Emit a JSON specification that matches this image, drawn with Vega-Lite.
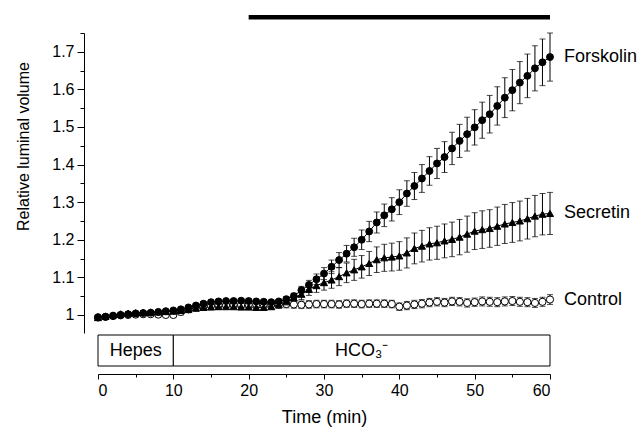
{
  "$schema": "https://vega.github.io/schema/vega-lite/v6.json",
  "background": "white",
  "padding": {"left": 15, "top": 14, "right": 2, "bottom": 5},
  "config": {
    "view": {"stroke": null},
    "font": "Liberation Sans",
    "axis": {"labelFont": "Liberation Sans", "titleFont": "Liberation Sans", "labelColor": "black", "titleColor": "black", "domainColor": "black", "tickColor": "black", "titleFontWeight": "normal", "grid": false}
  },
  "datasets": {
    "series": [
      {"t":0,"s":"Control","v":0.994,"e":0.004},{"t":1,"s":"Control","v":0.995,"e":0.004},{"t":2,"s":"Control","v":0.997,"e":0.004},{"t":3,"s":"Control","v":0.999,"e":0.004},{"t":4,"s":"Control","v":1.0,"e":0.004},{"t":5,"s":"Control","v":1.001,"e":0.004},{"t":6,"s":"Control","v":1.002,"e":0.004},{"t":7,"s":"Control","v":1.002,"e":0.004},{"t":8,"s":"Control","v":1.001,"e":0.004},{"t":9,"s":"Control","v":1.0,"e":0.004},{"t":10,"s":"Control","v":1.0,"e":0.005},
      {"t":11,"s":"Control","v":1.008,"e":0.008},{"t":12,"s":"Control","v":1.015,"e":0.009},{"t":13,"s":"Control","v":1.02,"e":0.009},{"t":14,"s":"Control","v":1.023,"e":0.009},{"t":15,"s":"Control","v":1.025,"e":0.01},{"t":16,"s":"Control","v":1.026,"e":0.01},{"t":17,"s":"Control","v":1.026,"e":0.01},{"t":18,"s":"Control","v":1.027,"e":0.01},{"t":19,"s":"Control","v":1.027,"e":0.01},{"t":20,"s":"Control","v":1.027,"e":0.01},
      {"t":21,"s":"Control","v":1.028,"e":0.01},{"t":22,"s":"Control","v":1.028,"e":0.01},{"t":23,"s":"Control","v":1.028,"e":0.01},{"t":24,"s":"Control","v":1.028,"e":0.01},{"t":25,"s":"Control","v":1.029,"e":0.01},{"t":26,"s":"Control","v":1.028,"e":0.01},{"t":27,"s":"Control","v":1.027,"e":0.01},{"t":28,"s":"Control","v":1.028,"e":0.01},{"t":29,"s":"Control","v":1.029,"e":0.01},{"t":30,"s":"Control","v":1.029,"e":0.01},
      {"t":31,"s":"Control","v":1.029,"e":0.01},{"t":32,"s":"Control","v":1.028,"e":0.01},{"t":33,"s":"Control","v":1.03,"e":0.01},{"t":34,"s":"Control","v":1.03,"e":0.01},{"t":35,"s":"Control","v":1.029,"e":0.01},{"t":36,"s":"Control","v":1.03,"e":0.01},{"t":37,"s":"Control","v":1.03,"e":0.01},{"t":38,"s":"Control","v":1.03,"e":0.01},{"t":39,"s":"Control","v":1.029,"e":0.01},{"t":40,"s":"Control","v":1.022,"e":0.01},
      {"t":41,"s":"Control","v":1.025,"e":0.011},{"t":42,"s":"Control","v":1.028,"e":0.011},{"t":43,"s":"Control","v":1.03,"e":0.011},{"t":44,"s":"Control","v":1.033,"e":0.011},{"t":45,"s":"Control","v":1.035,"e":0.011},{"t":46,"s":"Control","v":1.033,"e":0.011},{"t":47,"s":"Control","v":1.036,"e":0.011},{"t":48,"s":"Control","v":1.035,"e":0.011},{"t":49,"s":"Control","v":1.032,"e":0.011},{"t":50,"s":"Control","v":1.034,"e":0.011},
      {"t":51,"s":"Control","v":1.036,"e":0.012},{"t":52,"s":"Control","v":1.035,"e":0.012},{"t":53,"s":"Control","v":1.034,"e":0.012},{"t":54,"s":"Control","v":1.036,"e":0.012},{"t":55,"s":"Control","v":1.037,"e":0.012},{"t":56,"s":"Control","v":1.035,"e":0.012},{"t":57,"s":"Control","v":1.034,"e":0.012},{"t":58,"s":"Control","v":1.032,"e":0.012},{"t":59,"s":"Control","v":1.035,"e":0.012},{"t":60,"s":"Control","v":1.041,"e":0.013},

      {"t":0,"s":"Secretin","v":0.993,"e":0.004},{"t":1,"s":"Secretin","v":0.996,"e":0.004},{"t":2,"s":"Secretin","v":1.0,"e":0.004},{"t":3,"s":"Secretin","v":1.003,"e":0.004},{"t":4,"s":"Secretin","v":1.005,"e":0.004},{"t":5,"s":"Secretin","v":1.006,"e":0.004},{"t":6,"s":"Secretin","v":1.007,"e":0.004},{"t":7,"s":"Secretin","v":1.008,"e":0.004},{"t":8,"s":"Secretin","v":1.008,"e":0.004},{"t":9,"s":"Secretin","v":1.009,"e":0.004},{"t":10,"s":"Secretin","v":1.01,"e":0.004},
      {"t":11,"s":"Secretin","v":1.012,"e":0.006},{"t":12,"s":"Secretin","v":1.015,"e":0.006},{"t":13,"s":"Secretin","v":1.018,"e":0.006},{"t":14,"s":"Secretin","v":1.02,"e":0.006},{"t":15,"s":"Secretin","v":1.021,"e":0.006},{"t":16,"s":"Secretin","v":1.022,"e":0.006},{"t":17,"s":"Secretin","v":1.022,"e":0.006},{"t":18,"s":"Secretin","v":1.022,"e":0.006},{"t":19,"s":"Secretin","v":1.021,"e":0.006},{"t":20,"s":"Secretin","v":1.021,"e":0.006},
      {"t":21,"s":"Secretin","v":1.02,"e":0.006},{"t":22,"s":"Secretin","v":1.02,"e":0.006},{"t":23,"s":"Secretin","v":1.022,"e":0.006},{"t":24,"s":"Secretin","v":1.027,"e":0.008},{"t":25,"s":"Secretin","v":1.035,"e":0.01},{"t":26,"s":"Secretin","v":1.045,"e":0.012},{"t":27,"s":"Secretin","v":1.055,"e":0.014},{"t":28,"s":"Secretin","v":1.068,"e":0.016},{"t":29,"s":"Secretin","v":1.078,"e":0.018},{"t":30,"s":"Secretin","v":1.086,"e":0.02},
      {"t":31,"s":"Secretin","v":1.093,"e":0.022},{"t":32,"s":"Secretin","v":1.102,"e":0.024},{"t":33,"s":"Secretin","v":1.112,"e":0.026},{"t":34,"s":"Secretin","v":1.12,"e":0.028},{"t":35,"s":"Secretin","v":1.128,"e":0.03},{"t":36,"s":"Secretin","v":1.137,"e":0.032},{"t":37,"s":"Secretin","v":1.147,"e":0.034},{"t":38,"s":"Secretin","v":1.152,"e":0.036},{"t":39,"s":"Secretin","v":1.154,"e":0.037},{"t":40,"s":"Secretin","v":1.157,"e":0.038},
      {"t":41,"s":"Secretin","v":1.165,"e":0.04},{"t":42,"s":"Secretin","v":1.177,"e":0.041},{"t":43,"s":"Secretin","v":1.183,"e":0.042},{"t":44,"s":"Secretin","v":1.189,"e":0.043},{"t":45,"s":"Secretin","v":1.192,"e":0.044},{"t":46,"s":"Secretin","v":1.197,"e":0.045},{"t":47,"s":"Secretin","v":1.201,"e":0.046},{"t":48,"s":"Secretin","v":1.207,"e":0.047},{"t":49,"s":"Secretin","v":1.215,"e":0.048},{"t":50,"s":"Secretin","v":1.223,"e":0.049},
      {"t":51,"s":"Secretin","v":1.227,"e":0.05},{"t":52,"s":"Secretin","v":1.23,"e":0.05},{"t":53,"s":"Secretin","v":1.236,"e":0.051},{"t":54,"s":"Secretin","v":1.242,"e":0.052},{"t":55,"s":"Secretin","v":1.246,"e":0.053},{"t":56,"s":"Secretin","v":1.25,"e":0.053},{"t":57,"s":"Secretin","v":1.256,"e":0.054},{"t":58,"s":"Secretin","v":1.263,"e":0.055},{"t":59,"s":"Secretin","v":1.268,"e":0.055},{"t":60,"s":"Secretin","v":1.27,"e":0.056},

      {"t":0,"s":"Forskolin","v":0.993,"e":0.004},{"t":1,"s":"Forskolin","v":0.995,"e":0.004},{"t":2,"s":"Forskolin","v":0.998,"e":0.004},{"t":3,"s":"Forskolin","v":1.0,"e":0.004},{"t":4,"s":"Forskolin","v":1.002,"e":0.004},{"t":5,"s":"Forskolin","v":1.004,"e":0.004},{"t":6,"s":"Forskolin","v":1.005,"e":0.004},{"t":7,"s":"Forskolin","v":1.006,"e":0.004},{"t":8,"s":"Forskolin","v":1.008,"e":0.004},{"t":9,"s":"Forskolin","v":1.01,"e":0.004},{"t":10,"s":"Forskolin","v":1.012,"e":0.004},
      {"t":11,"s":"Forskolin","v":1.015,"e":0.005},{"t":12,"s":"Forskolin","v":1.02,"e":0.005},{"t":13,"s":"Forskolin","v":1.025,"e":0.005},{"t":14,"s":"Forskolin","v":1.03,"e":0.005},{"t":15,"s":"Forskolin","v":1.034,"e":0.005},{"t":16,"s":"Forskolin","v":1.036,"e":0.005},{"t":17,"s":"Forskolin","v":1.037,"e":0.005},{"t":18,"s":"Forskolin","v":1.037,"e":0.005},{"t":19,"s":"Forskolin","v":1.038,"e":0.005},{"t":20,"s":"Forskolin","v":1.037,"e":0.005},
      {"t":21,"s":"Forskolin","v":1.036,"e":0.005},{"t":22,"s":"Forskolin","v":1.035,"e":0.005},{"t":23,"s":"Forskolin","v":1.034,"e":0.005},{"t":24,"s":"Forskolin","v":1.036,"e":0.005},{"t":25,"s":"Forskolin","v":1.042,"e":0.007},{"t":26,"s":"Forskolin","v":1.05,"e":0.008},{"t":27,"s":"Forskolin","v":1.066,"e":0.01},{"t":28,"s":"Forskolin","v":1.08,"e":0.012},{"t":29,"s":"Forskolin","v":1.095,"e":0.014},{"t":30,"s":"Forskolin","v":1.11,"e":0.016},
      {"t":31,"s":"Forskolin","v":1.128,"e":0.018},{"t":32,"s":"Forskolin","v":1.146,"e":0.02},{"t":33,"s":"Forskolin","v":1.163,"e":0.022},{"t":34,"s":"Forskolin","v":1.18,"e":0.024},{"t":35,"s":"Forskolin","v":1.2,"e":0.026},{"t":36,"s":"Forskolin","v":1.222,"e":0.027},{"t":37,"s":"Forskolin","v":1.246,"e":0.028},{"t":38,"s":"Forskolin","v":1.265,"e":0.03},{"t":39,"s":"Forskolin","v":1.281,"e":0.031},{"t":40,"s":"Forskolin","v":1.3,"e":0.033},
      {"t":41,"s":"Forskolin","v":1.323,"e":0.034},{"t":42,"s":"Forskolin","v":1.343,"e":0.036},{"t":43,"s":"Forskolin","v":1.363,"e":0.037},{"t":44,"s":"Forskolin","v":1.383,"e":0.038},{"t":45,"s":"Forskolin","v":1.403,"e":0.04},{"t":46,"s":"Forskolin","v":1.42,"e":0.041},{"t":47,"s":"Forskolin","v":1.443,"e":0.043},{"t":48,"s":"Forskolin","v":1.463,"e":0.044},{"t":49,"s":"Forskolin","v":1.481,"e":0.045},{"t":50,"s":"Forskolin","v":1.499,"e":0.047},
      {"t":51,"s":"Forskolin","v":1.518,"e":0.048},{"t":52,"s":"Forskolin","v":1.534,"e":0.05},{"t":53,"s":"Forskolin","v":1.556,"e":0.051},{"t":54,"s":"Forskolin","v":1.578,"e":0.053},{"t":55,"s":"Forskolin","v":1.598,"e":0.055},{"t":56,"s":"Forskolin","v":1.618,"e":0.056},{"t":57,"s":"Forskolin","v":1.636,"e":0.058},{"t":58,"s":"Forskolin","v":1.656,"e":0.06},{"t":59,"s":"Forskolin","v":1.672,"e":0.062},{"t":60,"s":"Forskolin","v":1.686,"e":0.064}
    ],
    "treatment": [{"start": 20, "end": 60}],
    "solutions": [
      {"label": "Hepes", "start": 0, "end": 10, "mid": 5},
      {"label": "HCO₃⁻", "start": 10, "end": 60, "mid": 35}
    ]
  },
  "vconcat": [
    {
      "width": 452,
      "height": 300,
      "data": {"name": "series"},
      "encoding": {
        "x": {"field": "t", "type": "quantitative", "scale": {"domain": [0, 60], "nice": false}, "axis": null}
      },
      "layer": [
        {
          "mark": {"type": "errorbar", "ticks": {"size": 6, "thickness": 1}, "color": "black", "thickness": 1},
          "encoding": {
            "y": {"field": "v", "type": "quantitative", "scale": {"domain": [0.952, 1.75], "nice": false, "zero": false},
              "axis": {"values": [1, 1.1, 1.2, 1.3, 1.4, 1.5, 1.6, 1.7], "format": "~g", "offset": 14, "tickSize": 7, "labelFontSize": 16, "labelPadding": 3, "title": "Relative luminal volume", "titleFontSize": 16, "titlePadding": 20, "titleY": 113}},
            "yError": {"field": "e"},
            "detail": {"field": "s"}
          }
        },
        {
          "mark": {"type": "line", "color": "black", "strokeWidth": 1},
          "encoding": {
            "y": {"field": "v", "type": "quantitative", "axis": null},
            "detail": {"field": "s"}
          }
        },
        {
          "mark": {"type": "point", "filled": true, "stroke": "black", "strokeWidth": 1, "opacity": 1},
          "encoding": {
            "y": {"field": "v", "type": "quantitative",
              "axis": {"values": [0.95, 1.05, 1.15, 1.25, 1.35, 1.45, 1.55, 1.65, 1.75], "labels": false, "domain": false, "offset": 14, "tickSize": 4, "title": null, "orient": "left"}},
            "shape": {"field": "s", "type": "nominal", "scale": {"domain": ["Forskolin", "Secretin", "Control"], "range": ["circle", "triangle-up", "circle"]}, "legend": null},
            "fill": {"field": "s", "type": "nominal", "scale": {"domain": ["Forskolin", "Secretin", "Control"], "range": ["black", "black", "white"]}, "legend": null},
            "size": {"field": "s", "type": "nominal", "scale": {"domain": ["Forskolin", "Secretin", "Control"], "range": [48, 52, 40]}, "legend": null}
          }
        },
        {
          "transform": [{"filter": "datum.t == 60"}],
          "mark": {"type": "text", "align": "left", "baseline": "middle", "dx": 14, "fontSize": 18, "font": "Liberation Sans", "color": "black"},
          "encoding": {
            "y": {"field": "v", "type": "quantitative", "axis": null},
            "text": {"field": "s"}
          }
        },
        {
          "data": {"name": "treatment"},
          "mark": {"type": "rule", "color": "black", "strokeWidth": 4.5},
          "encoding": {
            "x": {"field": "start", "type": "quantitative"},
            "x2": {"field": "end"},
            "y": {"datum": 1.792, "axis": null}
          }
        }
      ],
      "resolve": {"axis": {"y": "independent"}}
    },
    {
      "width": 452,
      "height": 31,
      "data": {"name": "solutions"},
      "encoding": {
        "y": {"datum": 0.5, "type": "quantitative", "scale": {"domain": [0, 1], "nice": false, "zero": false}, "axis": null}
      },
      "layer": [
        {
          "mark": {"type": "rect", "fill": "white", "stroke": "black", "strokeWidth": 1},
          "encoding": {
            "x": {"field": "start", "type": "quantitative", "scale": {"domain": [0, 60], "nice": false},
              "axis": {"values": [0, 10, 20, 30, 40, 50, 60], "offset": 8, "tickSize": 5, "labelFontSize": 16, "labelPadding": 3, "title": "Time (min)", "titleFontSize": 18, "titlePadding": 10}},
            "x2": {"field": "end"},
            "y": {"datum": 0, "type": "quantitative"},
            "y2": {"datum": 1}
          }
        },
        {
          "mark": {"type": "text", "fontSize": 18, "font": "Liberation Sans", "color": "black", "baseline": "middle"},
          "encoding": {
            "x": {"field": "mid", "type": "quantitative",
              "axis": {"values": [5, 15, 25, 35, 45, 55], "labels": false, "domain": false, "offset": 8, "tickSize": 3, "title": null, "orient": "bottom"}},
            "text": {"field": "label"}
          }
        }
      ],
      "resolve": {"axis": {"x": "independent"}}
    }
  ],
  "spacing": 1
}
